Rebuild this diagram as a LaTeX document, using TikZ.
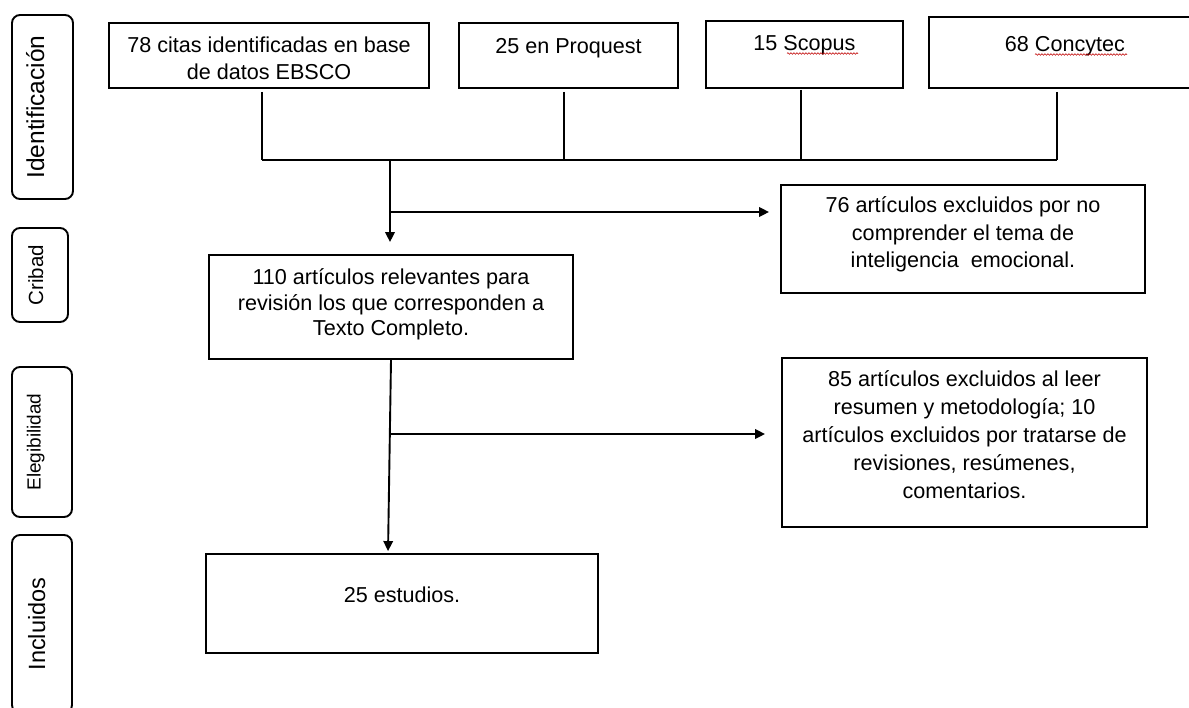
\documentclass[tikz,border=0pt]{standalone}
\usepackage{fontspec}
\setmainfont{Liberation Sans}
\usetikzlibrary{arrows.meta,decorations.pathmorphing,calc}
\newcommand{\bt}[4]{\parbox[c][#2pt][t]{#1pt}{\centering\vspace*{\dimexpr#3pt-16pt\relax}\rule{0pt}{16pt}#4\par}}
\begin{document}
\begin{tikzpicture}[x=1pt,y=-1pt,
  font=\fontsize{21.6}{27}\selectfont,
  box/.style={draw, line width=1.9pt, inner sep=0pt, rectangle},
  lab/.style={draw, line width=1.9pt, rounded corners=8pt, inner sep=0pt, rotate=90},
  conn/.style={line width=1.9pt},
  arr/.style={conn, -{Triangle[length=10pt,width=9.5pt]}},
  wavy/.style={red!75!black, line width=0.6pt, decorate, decoration={snake, amplitude=0.8pt, segment length=3pt}}]
\useasboundingbox (0,0) rectangle (1189,707);
\clip (0,0) rectangle (1189,707);

% phase labels
\node[lab, minimum width=184pt, minimum height=61pt, font=\fontsize{24.5}{28}\selectfont, text height=18pt, text depth=15pt] (l1) at (42.5,107) {Identificación};
\node[lab, minimum width=94pt, minimum height=56pt, font=\fontsize{20.5}{24}\selectfont, text height=15pt, text depth=9pt] (l2) at (40,275) {Cribad};
\node[lab, minimum width=150pt, minimum height=60pt, font=\fontsize{19}{23}\selectfont, text height=14pt, text depth=17pt] (l3) at (42,442) {Elegibilidad};
\node[lab, minimum width=178pt, minimum height=60pt, font=\fontsize{23.5}{27}\selectfont, text height=17pt, text depth=11pt] (l4) at (42,624) {Incluidos};

% boxes
\node[box] (b1) at (269,55.5) {\bt{320}{65}{29.5}{78 citas identificadas en base\\de datos EBSCO}};
\node[box] (b2) at (568.5,55.5) {\bt{219}{65}{30.5}{25 en Proquest}};
\node[box] (b3) at (804.5,54.5) {\bt{197}{67}{29.5}{15 Scopus}};
\node[box] (b4) at (1065,52.5) {\bt{272}{71}{34.5}{68 Concytec}};
\node[box] (b76) at (963,239) {\fontsize{21.6}{27.5}\selectfont\bt{364}{108}{27.5}{76 artículos excluidos por no\\comprender el tema de\\inteligencia\ \ emocional.}};
\node[box] (b110) at (391,307) {\fontsize{21.6}{25.5}\selectfont\bt{364}{104}{29.5}{110 artículos relevantes para\\revisión los que corresponden a\\Texto Completo.}};
\node[box] (b85) at (964.5,442.5) {\fontsize{21.6}{28}\selectfont\bt{365}{169}{28.5}{85 artículos excluidos al leer\\resumen y metodología; 10\\artículos excluidos por tratarse de\\revisiones, resúmenes,\\comentarios.}};
\node[box] (b25) at (402,603.5) {\bt{392}{99}{48.5}{25 estudios.}};

% spell-check underlines
\draw[wavy] (787,53.5) -- (858,53.5);
\draw[wavy] (1035,54.5) -- (1127,54.5);

% junctions
\coordinate (j1) at (262,160);
\coordinate (j2) at (564,160);
\coordinate (j3) at (801,160);
\coordinate (j4) at (1057,160);
\coordinate (jc) at (390,160);
\coordinate (k1) at (390,212);
\coordinate (k2) at (389.5,434);
\coordinate (k3) at (388,500);

% connectors
\draw[conn, shorten <=3pt] (b1.south -| j1) -- (j1);
\draw[conn, shorten <=3pt] (b2.south -| j2) -- (j2);
\draw[conn, shorten <=1pt] (b3.south -| j3) -- (j3);
\draw[conn, shorten <=3pt] (b4.south -| j4) -- (j4);
\draw[conn] (j1) -- (j4);
\draw[arr, shorten >=12pt] (jc) -- (b110.north -| jc);
\draw[arr, shorten >=11pt] (k1) -- (b76.west |- k1);
\draw[arr, shorten >=2pt] (b110.south) -- (b25.north -| k3);
\draw[arr, shorten >=16pt] (k2) -- (b85.west |- k2);
\end{tikzpicture}
\end{document}
